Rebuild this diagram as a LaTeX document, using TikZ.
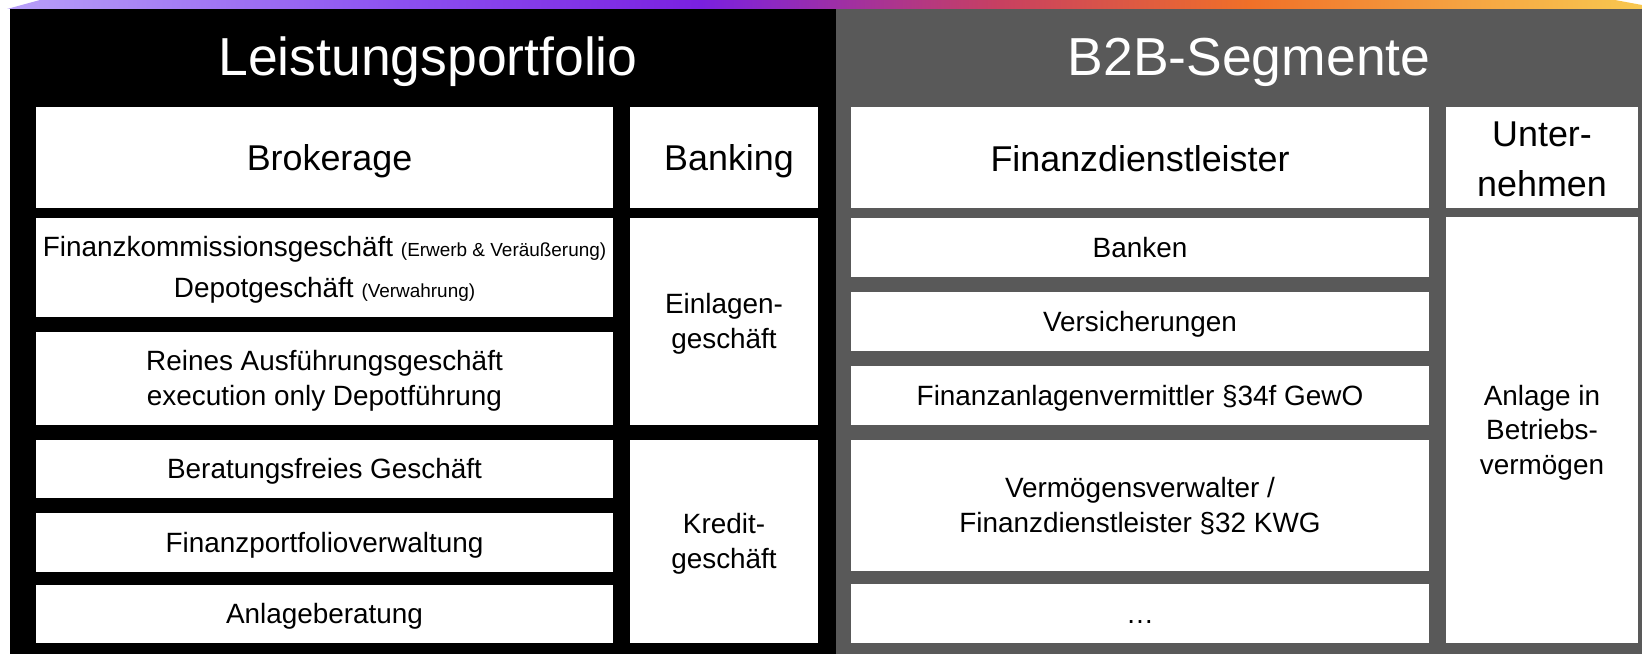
\documentclass[tikz,border=0pt]{standalone}
\usepackage{fontspec}
\setmainfont{Liberation Sans}
\definecolor{panelgray}{HTML}{595959}
\definecolor{gA}{HTML}{B8A0F8}
\definecolor{gB}{HTML}{8C50F0}
\definecolor{gC}{HTML}{7A20E0}
\definecolor{gD}{HTML}{C84060}
\definecolor{gE}{HTML}{F07028}
\definecolor{gF}{HTML}{F5A040}
\definecolor{gG}{HTML}{F8C850}
\pgfdeclarehorizontalshading{topbar}{100bp}{color(0bp)=(gA); color(25bp)=(gA); color(37bp)=(gB); color(46.2bp)=(gC); color(55.4bp)=(gD); color(63bp)=(gE); color(69.1bp)=(gF); color(75bp)=(gG); color(100bp)=(gG)}
\tikzset{
  cell/.style={fill=white, inner sep=0pt, outer sep=0pt, anchor=north west, align=center, text=black,
    font=\fontsize{28}{34.5}\selectfont},
  headcell/.style={cell, font=\fontsize{36}{50}\selectfont},
  paneltitle/.style={text=white, inner sep=0pt, anchor=base, font=\fontsize{53.7}{60}\selectfont},
}
\newcommand{\ls}{\rule[-0.212em]{0pt}{1.117em}}
\newcommand{\hs}{\rule[-0.17em]{0pt}{1.117em}}
\newcommand{\smalltxt}[1]{{\fontsize{19}{22}\selectfont #1}}
\begin{document}
\begin{tikzpicture}[x=1bp, y=-1bp]
\useasboundingbox (0,0) rectangle (1642,654);
% top gradient bar
\shade[shading=topbar] (7,9) -- (40,0) -- (1615,0) -- (1642,5) -- (1642,9) -- cycle;
% panels
\fill[black] (10,9) rectangle (836,654);
\fill[panelgray] (836,9) rectangle (1642,654);
% titles
\node[paneltitle] (t1) at (428,76) {Leistungsportfolio};
\node[paneltitle] (t2) at (1249,76) {B2B-Segmente};
% left panel
\node[headcell, minimum width=577bp, minimum height=101bp] (brok) at (36,107) {\hs\kern10bp Brokerage};
\node[headcell, minimum width=188bp, minimum height=101bp] (bank) at (630,107) {\hs\kern10bp Banking};
\node[cell, minimum width=577bp, minimum height=99bp, font=\fontsize{28}{41}\selectfont] (fk) at (36,218)
  {\ls Finanzkommissionsgeschäft \smalltxt{(Erwerb \& Veräußerung)}\\\ls Depotgeschäft \smalltxt{(Verwahrung)}};
\node[cell, minimum width=577bp, minimum height=93bp] (reines) at (36,332) {\ls Reines Ausführungsgeschäft\\\ls execution only Depotführung};
\node[cell, minimum width=577bp, minimum height=58bp] (berat) at (36,440) {\ls Beratungsfreies Geschäft};
\node[cell, minimum width=577bp, minimum height=59bp] (fport) at (36,513) {\ls Finanzportfolioverwaltung};
\node[cell, minimum width=577bp, minimum height=58bp] (anlb) at (36,585) {\ls Anlageberatung};
\node[cell, minimum width=188bp, minimum height=207bp] (einl) at (630,218) {\ls Einlagen-\\\ls geschäft};
\node[cell, minimum width=188bp, minimum height=203bp] (kred) at (630,440) {\ls Kredit-\\\ls geschäft};
% right panel
\node[headcell, minimum width=578bp, minimum height=101bp] (fdl) at (851,107) {\hs Finanzdienstleister};
\node[headcell, minimum width=192bp, minimum height=101bp] (unt) at (1446,107) {\hs Unter-\\\hs nehmen};
\node[cell, minimum width=578bp, minimum height=59bp] (banken) at (851,218) {\ls Banken};
\node[cell, minimum width=578bp, minimum height=59bp] (vers) at (851,292) {\ls Versicherungen};
\node[cell, minimum width=578bp, minimum height=59bp] (fav) at (851,366) {\ls Finanzanlagenvermittler §34f GewO};
\node[cell, minimum width=578bp, minimum height=131bp] (vv) at (851,440) {\ls Vermögensverwalter /\\\ls Finanzdienstleister §32 KWG};
\node[cell, minimum width=578bp, minimum height=59bp] (dots) at (851,584) {\ls …};
\node[cell, minimum width=192bp, minimum height=426bp] (anl) at (1446,217) {\ls Anlage in\\\ls Betriebs-\\\ls vermögen};
\end{tikzpicture}
\end{document}
